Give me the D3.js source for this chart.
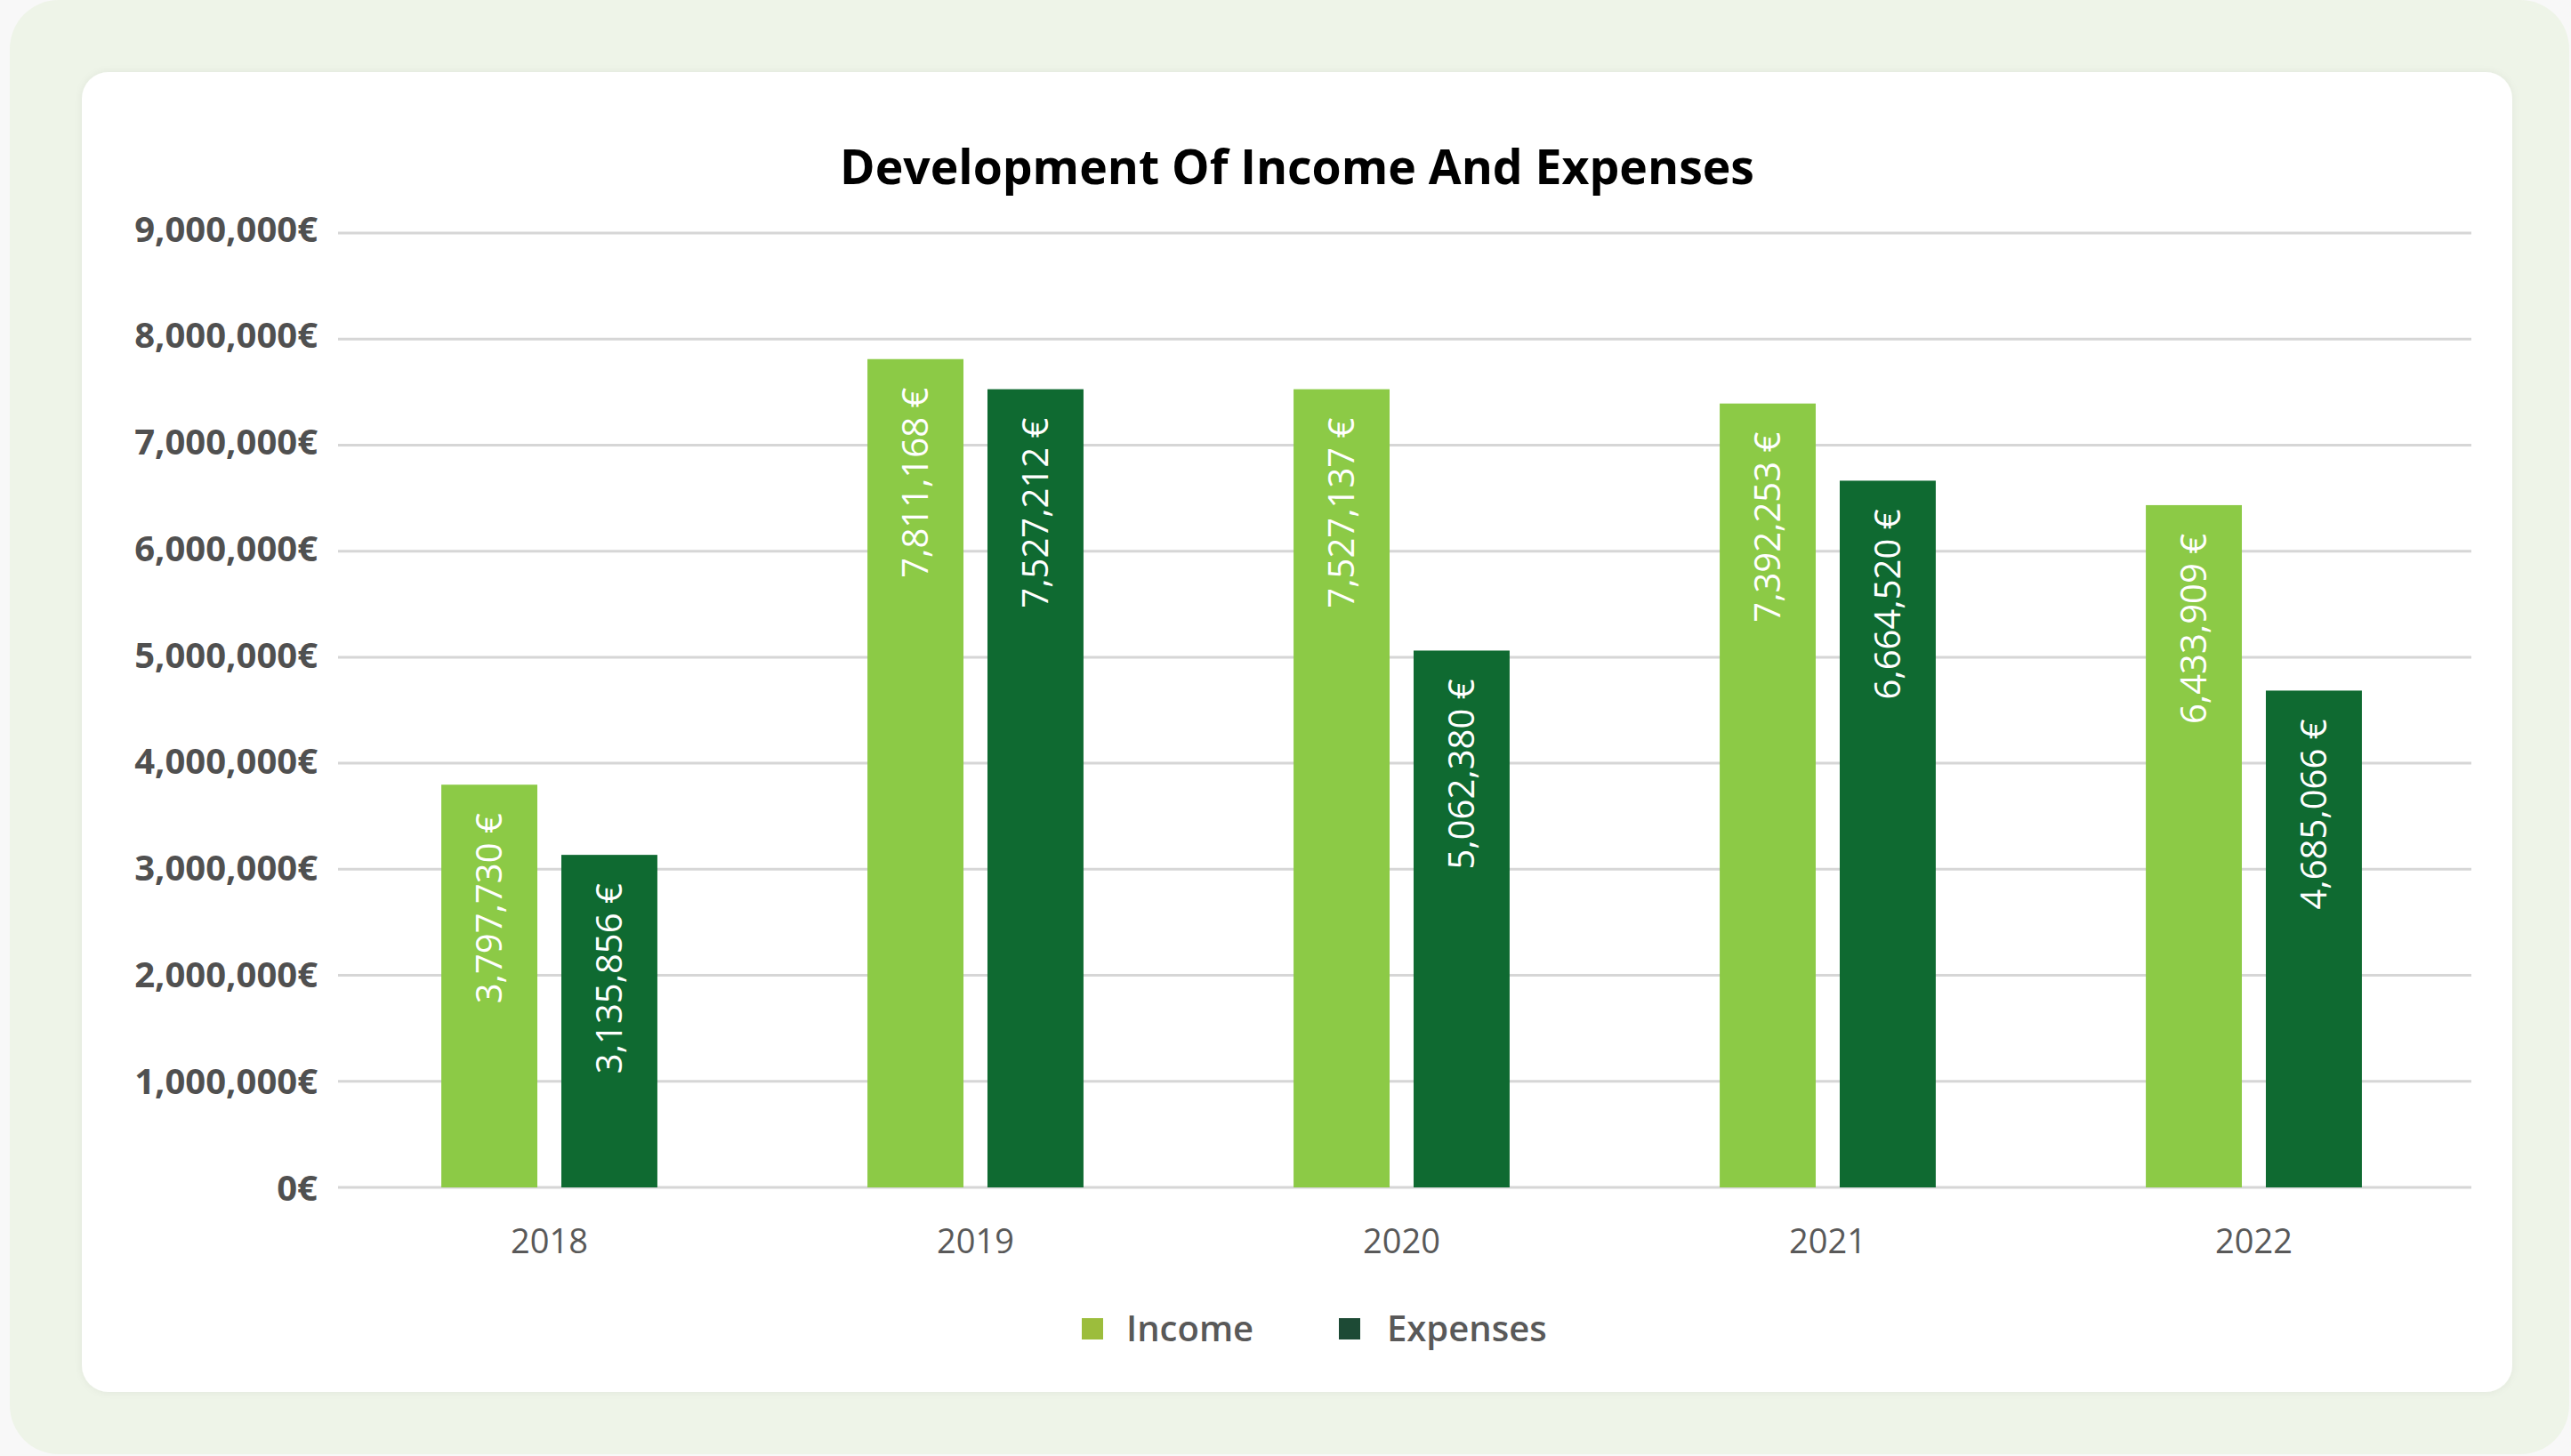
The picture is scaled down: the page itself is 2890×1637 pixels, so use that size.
<!DOCTYPE html>
<html>
<head>
<meta charset="utf-8">
<script src="https://cdn.jsdelivr.net/npm/d3@7"></script>
<style>
  html, body { margin: 0; padding: 0; background: #f8f8f8; }
  svg { display: block; }
</style>
</head>
<body>
<svg id="chart" width="2890" height="1637"></svg>
<script>
const years = ["2018", "2019", "2020", "2021", "2022"];
const seriesNames = ["Income", "Expenses"];
const income = [3797730, 7811168, 7527137, 7392253, 6433909];
const expenses = [3135856, 7527212, 5062380, 6664520, 4685066];
const yTicks = [0, 1000000, 2000000, 3000000, 4000000, 5000000, 6000000, 7000000, 8000000, 9000000];
const titleText = "Development Of Income And Expenses";

const barColors = { Income: "#8cca46", Expenses: "#0f6a31" };
const legendColors = { Income: "#9cbd3c", Expenses: "#1d4a35" };

const svg = d3.select("#chart");
const W = 2890, H = 1637;

const defs = svg.append("defs");
const f = defs.append("filter").attr("id", "shadow").attr("x", "-5%").attr("y", "-5%").attr("width", "110%").attr("height", "110%");
f.append("feDropShadow").attr("dx", 0).attr("dy", 0).attr("stdDeviation", 4).attr("flood-color", "#000").attr("flood-opacity", 0.06);

svg.append("rect").attr("x", 0).attr("y", 0).attr("width", W).attr("height", H).attr("fill", "#f8f8f8");
svg.append("rect").attr("x", 11).attr("y", 0).attr("width", 2877).attr("height", 1635).attr("rx", 55).attr("fill", "#eef4e8");
svg.append("rect").attr("x", 92).attr("y", 81).attr("width", 2732).attr("height", 1484).attr("rx", 30)
  .attr("fill", "#ffffff").attr("filter", "url(#shadow)");

const x0 = d3.scaleBand().domain(years).range([378, 2773]).paddingInner(0.493).paddingOuter(0.2465);
const x1 = d3.scaleBand().domain(seriesNames).range([0, x0.bandwidth()]).paddingInner(0.2).paddingOuter(0);
const y = d3.scaleLinear().domain([0, 9000000]).range([1335, 262]);

// grid
svg.append("g").selectAll("line").data(yTicks).join("line")
  .attr("x1", 380).attr("x2", 2778)
  .attr("y1", d => y(d)).attr("y2", d => y(d))
  .attr("stroke", "#d6d6d6").attr("stroke-width", 3);

const yAxis = d3.axisLeft(y).tickValues(yTicks).tickSize(0).tickPadding(0)
  .tickFormat(d => d3.format(",")(d) + "€");
const gy = svg.append("g").attr("transform", "translate(357,0)").call(yAxis);
gy.select(".domain").remove();
gy.selectAll("text").attr("font-family", "'Open Sans', sans-serif").attr("font-weight", 700)
  .attr("font-size", 40).attr("fill", "#505050")
  .attr("dy", d => (0.35 - 0.12 * d / 9000000) + "em");

// bars
const rows = years.map((yr, i) => ({ year: yr, values: [
  { key: "Income", value: income[i] },
  { key: "Expenses", value: expenses[i] }
]}));

const groups = svg.append("g").selectAll("g").data(rows).join("g")
  .attr("transform", d => `translate(${x0(d.year)},0)`);

groups.selectAll("rect").data(d => d.values).join("rect")
  .attr("x", d => x1(d.key))
  .attr("y", d => y(d.value))
  .attr("width", x1.bandwidth())
  .attr("height", d => y(0) - y(d.value))
  .attr("fill", d => barColors[d.key]);

groups.selectAll("text").data(d => d.values).join("text")
  .attr("transform", d => `translate(${x1(d.key) + x1.bandwidth() / 2},${y(d.value) + 32}) rotate(-90)`)
  .attr("text-anchor", "end")
  .attr("dy", "0.35em")
  .attr("font-family", "'Open Sans', sans-serif")
  .attr("font-size", 40)
  .attr("fill", "#ffffff")
  .text(d => d3.format(",")(d.value) + " €");

// x axis labels
const xAxis = d3.axisBottom(x0).tickSize(0).tickPadding(0);
const gx = svg.append("g").attr("transform", "translate(0,1396)").call(xAxis);
gx.select(".domain").remove();
gx.selectAll("text").attr("font-family", "'Open Sans', sans-serif").attr("font-size", 38)
  .attr("fill", "#595959").attr("dy", "0.35em");

// title
svg.append("text").attr("x", 1458).attr("y", 207).attr("text-anchor", "middle")
  .attr("font-family", "'Open Sans', sans-serif").attr("font-weight", 700).attr("font-size", 53.5)
  .attr("fill", "#000").text(titleText);

// legend
const legendItems = [
  { key: "Income", sx: 1216, tx: 1266 },
  { key: "Expenses", sx: 1505, tx: 1559 }
];
const lg = svg.append("g");
lg.selectAll("rect").data(legendItems).join("rect")
  .attr("x", d => d.sx).attr("y", 1482).attr("width", 24).attr("height", 24)
  .attr("fill", d => legendColors[d.key]);
lg.selectAll("text").data(legendItems).join("text")
  .attr("x", d => d.tx).attr("y", 1494).attr("dy", "0.35em")
  .attr("font-family", "'Open Sans', sans-serif").attr("font-weight", 600).attr("font-size", 40)
  .attr("fill", "#595959").text(d => d.key);
</script>
</body>
</html>
